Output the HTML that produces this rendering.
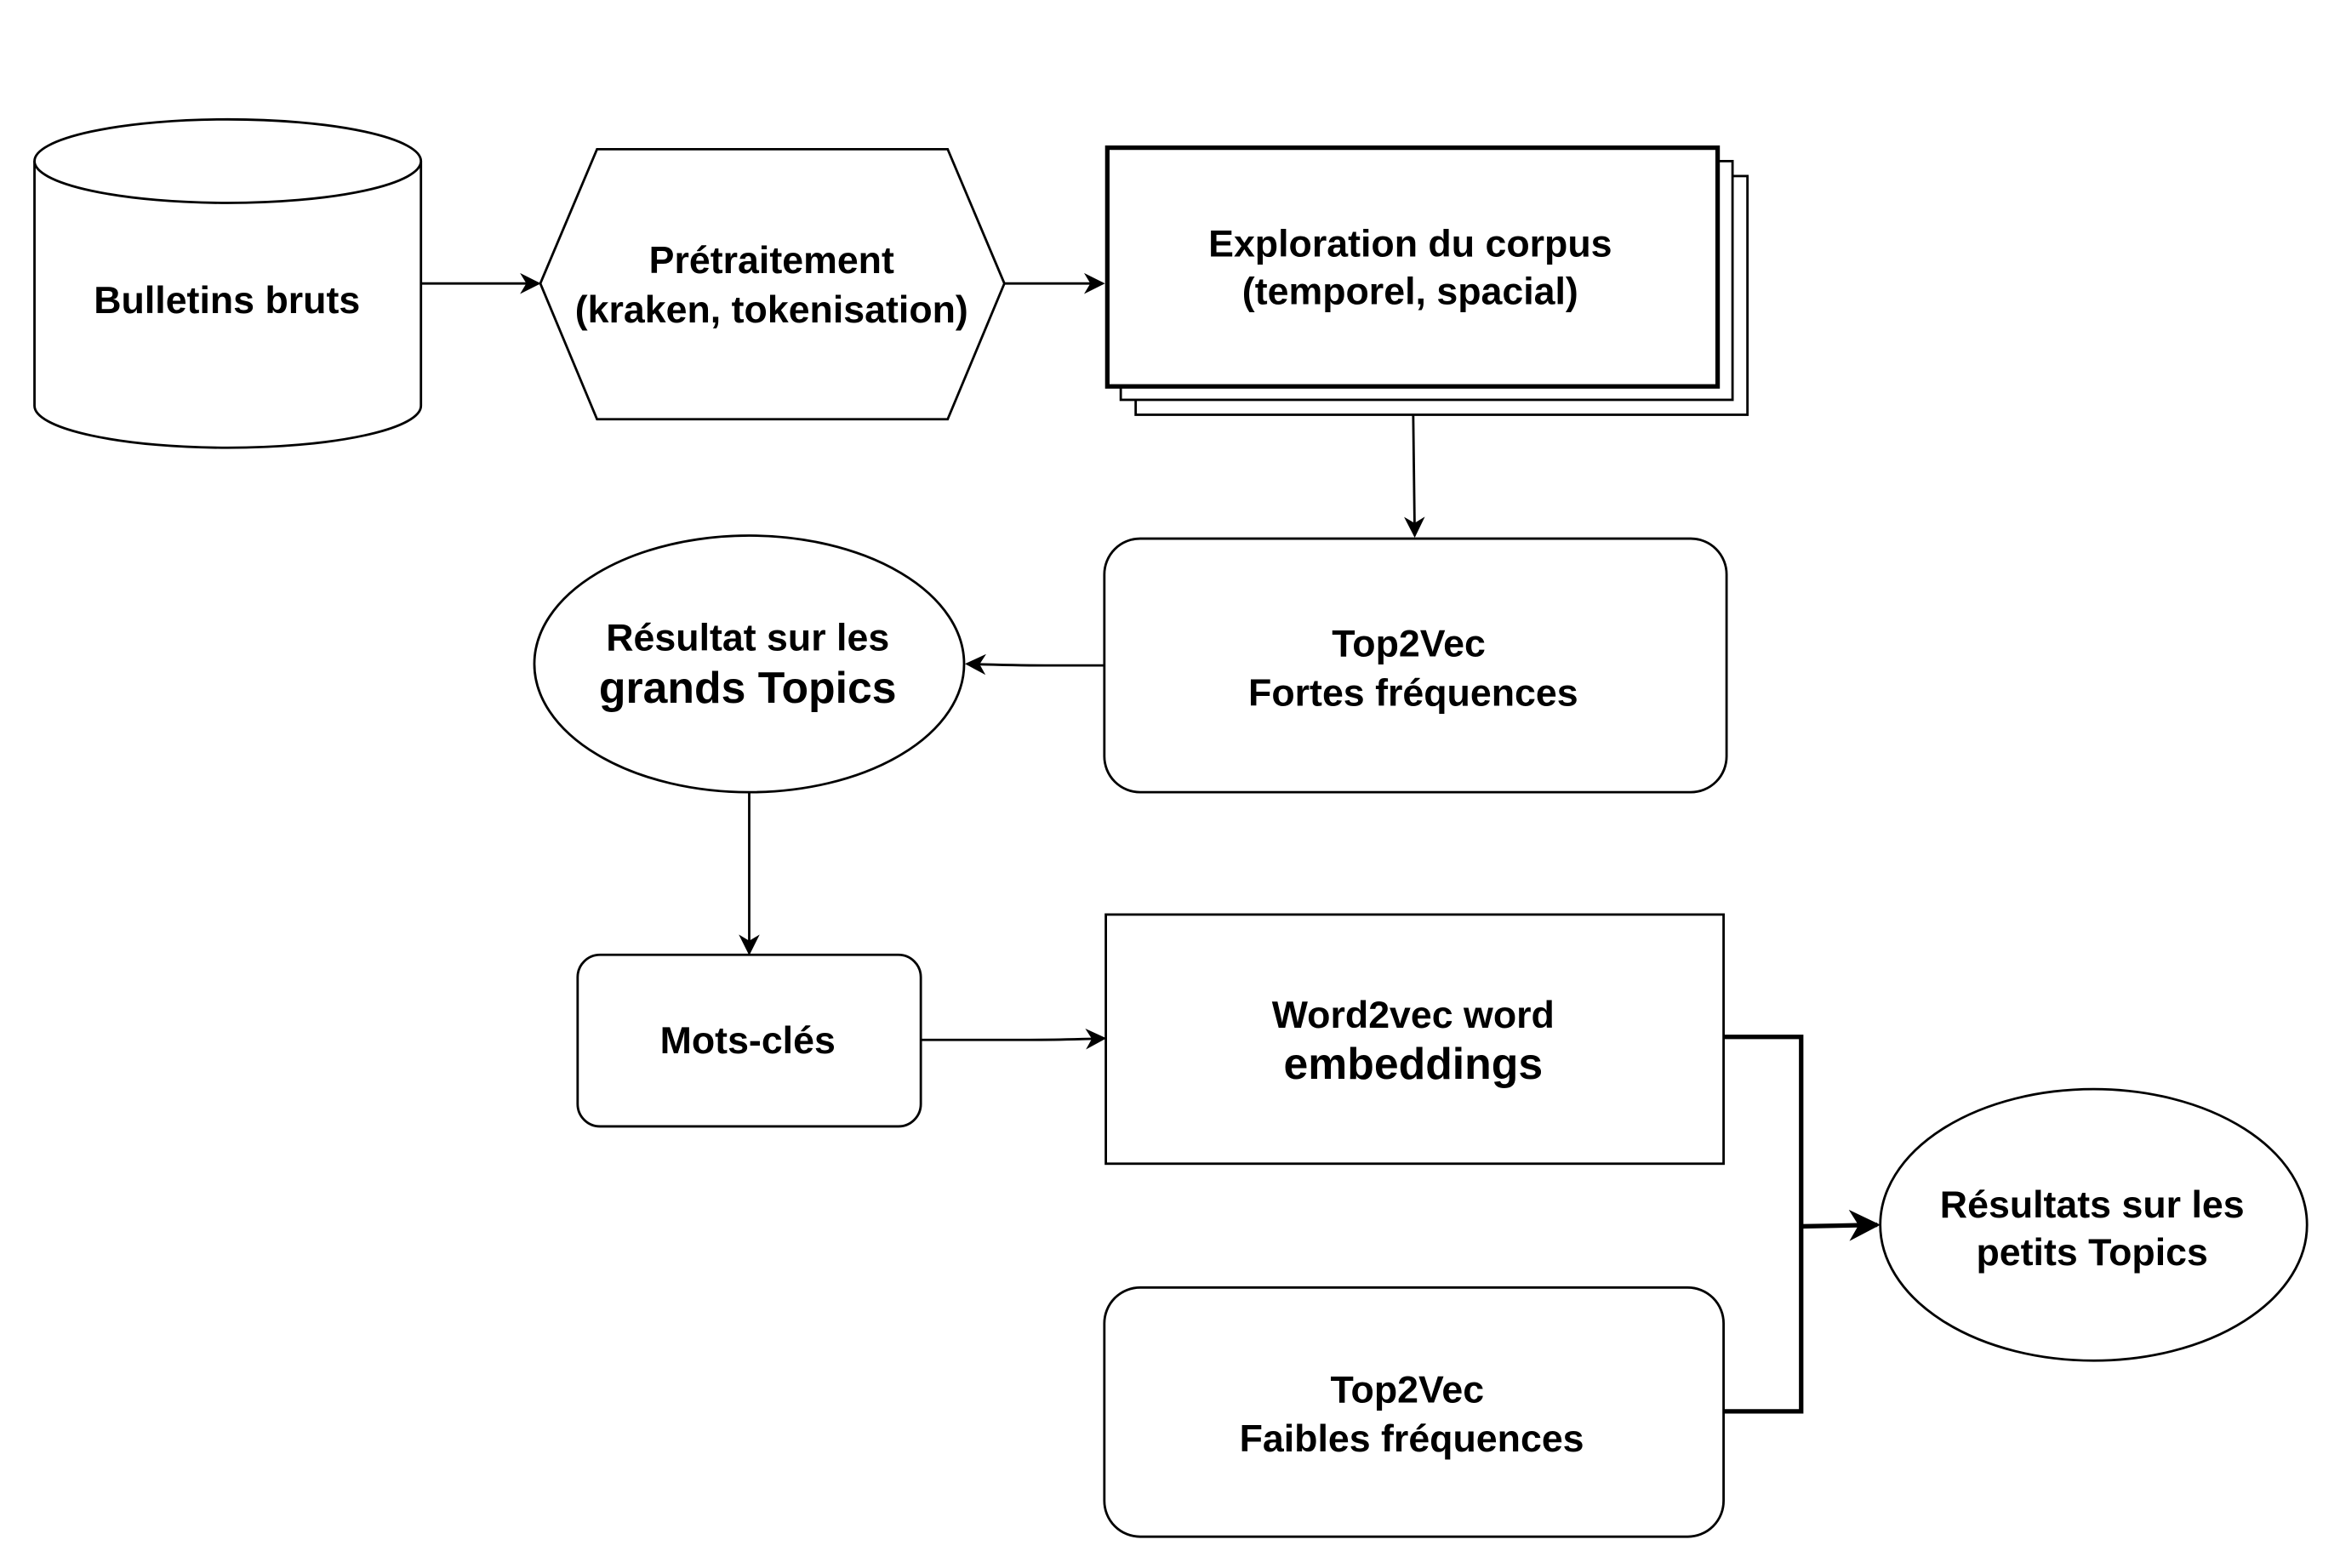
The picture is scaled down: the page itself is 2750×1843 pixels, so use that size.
<!DOCTYPE html>
<html><head><meta charset="utf-8"><style>html,body{margin:0;padding:0;background:#fff}svg{display:block}</style></head>
<body>
<svg width="2750" height="1843" viewBox="0 0 1568 1051" xmlns="http://www.w3.org/2000/svg" font-family="Liberation Sans, Arial, sans-serif" font-weight="bold" text-anchor="middle">
<defs>
<marker id="a" viewBox="0 0 10 10" refX="9" refY="5" markerWidth="14" markerHeight="14" markerUnits="userSpaceOnUse" orient="auto"><path d="M0,0 L10,5 L0,10 L3,5 Z" fill="#000"/></marker>
<marker id="b" viewBox="0 0 10 10" refX="9" refY="5" markerWidth="7" markerHeight="7" orient="auto"><path d="M0,0 L10,5 L0,10 L3,5 Z" fill="#000"/></marker>
</defs>
<rect width="1568" height="1051" fill="#fff"/>
<g fill="#fff" stroke="#000" stroke-width="1.6">
<path d="M23,108 L23,272 A129,28 0 0 0 282,272 L282,108"/>
<ellipse cx="152.5" cy="108" rx="129.5" ry="28"/>
<polygon points="400,100 635,100 673,190 635,281 400,281 362,190"/>
<rect x="761" y="118" width="410" height="160"/>
<rect x="751" y="108" width="410" height="160"/>
<rect x="742" y="99" width="409" height="160" stroke-width="3"/>
<rect x="740" y="361" width="417" height="170" rx="24"/>
<ellipse cx="502" cy="445" rx="144" ry="86"/>
<rect x="387" y="640" width="230" height="115" rx="15"/>
<rect x="741" y="613" width="414" height="167"/>
<rect x="740" y="863" width="415" height="167" rx="24"/>
<ellipse cx="1403" cy="821" rx="143" ry="91"/>
</g>
<g stroke="#000" stroke-width="1.6" fill="none">
<line x1="282" y1="190" x2="361" y2="190" marker-end="url(#a)"/>
<line x1="673" y1="190" x2="739" y2="190" marker-end="url(#a)"/>
<line x1="947" y1="278" x2="948" y2="359" marker-end="url(#a)"/>
<path d="M740,446 L700,446 Q680,446 648,445" marker-end="url(#a)"/>
<line x1="502" y1="531" x2="502" y2="639" marker-end="url(#a)"/>
<path d="M617,697 L690,697 Q710,697 740,696" marker-end="url(#a)"/>
<path d="M1155,695 L1207,695 L1207,946 L1155,946" stroke-width="3"/>
<path d="M1207,822 L1258,821" stroke-width="3" marker-end="url(#b)"/>
</g>
<g font-size="25.5" fill="#000">
<text x="152" y="210">Bulletins bruts</text>
<text x="517" y="183">Prétraitement</text>
<text x="517" y="216">(kraken, tokenisation)</text>
<text x="945" y="172">Exploration du corpus</text>
<text x="945" y="204">(temporel, spacial)</text>
<text x="944" y="440">Top2Vec</text>
<text x="947" y="473">Fortes fréquences</text>
<text x="501" y="436">Résultat sur les</text>
<text x="501" y="471" font-size="29.5">grands Topics</text>
<text x="501" y="706">Mots-clés</text>
<text x="947" y="689">Word2vec word</text>
<text x="947" y="723" font-size="29.5">embeddings</text>
<text x="943" y="940">Top2Vec</text>
<text x="946" y="973">Faibles fréquences</text>
<text x="1402" y="816">Résultats sur les</text>
<text x="1402" y="848">petits Topics</text>
</g>
</svg>
</body></html>
